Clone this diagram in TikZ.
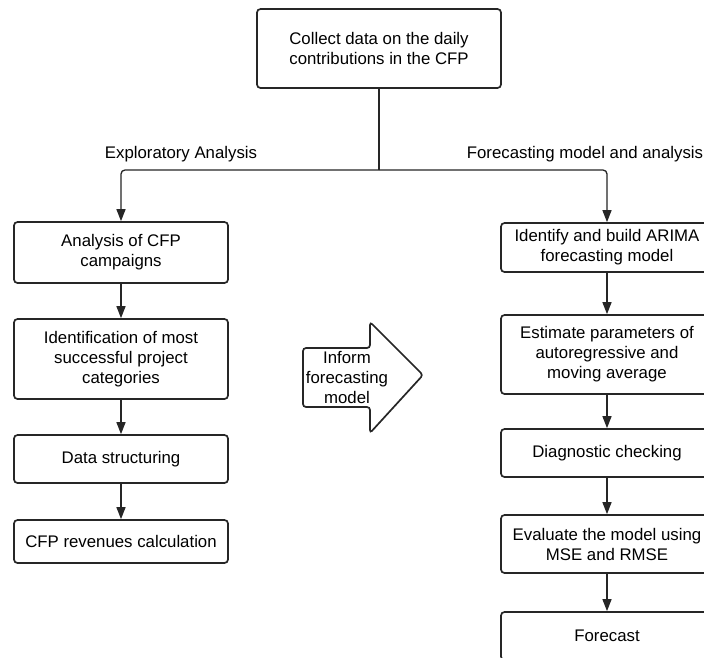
\documentclass[tikz,border=0pt]{standalone}
\usepackage{fontspec}
\setmainfont{Liberation Sans}
\usetikzlibrary{arrows.meta}
\definecolor{ink}{HTML}{262626}
\begin{document}
\begin{tikzpicture}[x=1pt,y=-1pt,
  box/.style={draw=ink, line width=1.7pt, rounded corners=3.5pt, align=center,
    inner sep=0pt, font=\fontsize{16.8}{20}\selectfont, text=black},
  lbl/.style={font=\fontsize{16.8}{20}\selectfont, text=black, inner sep=0pt},
  conn/.style={draw=ink, line width=1.3pt, -{Triangle[width=9pt,length=12pt]}},
  plain/.style={draw=ink, line width=1.3pt, rounded corners=4pt}]
\useasboundingbox (0,0) rectangle (704,657);
\fill[white] (0,0) rectangle (704,657);
\begin{scope}
\clip (0,0) rectangle (704,657);
% top
\node[box, minimum width=244pt, minimum height=79pt] (top) at (379,48.5) {Collect data on the daily\\contributions in the CFP};
% left column
\node[box, minimum width=214pt, minimum height=61pt] (l1) at (121,252.5) {Analysis of CFP\\campaigns};
\node[box, minimum width=214pt, minimum height=80pt] (l2) at (121,359) {Identification of most\\successful project\\categories};
\node[box, minimum width=214pt, minimum height=48pt] (l3) at (121,459) {Data structuring};
\node[box, minimum width=214pt, minimum height=43pt] (l4) at (121,541.5) {CFP revenues calculation};
% right column
\node[box, minimum width=212pt, minimum height=49pt] (r1) at (607,247.5) {Identify and build ARIMA\\forecasting model};
\node[box, minimum width=212pt, minimum height=79pt] (r2) at (607,354.5) {Estimate parameters of\\autoregressive and\\moving average};
\node[box, minimum width=212pt, minimum height=48pt] (r3) at (607,453) {Diagnostic checking};
\node[box, minimum width=212pt, minimum height=58pt] (r4) at (607,544) {Evaluate the model using\\MSE and RMSE};
\node[box, minimum width=212pt, minimum height=48pt] (r5) at (607,636) {Forecast};
% branch labels
\node[lbl] (exl) at (181,154) {Exploratory Analysis};
\node[lbl] (fcl) at (585,154) {Forecasting model and analysis};
% branch connectors
\coordinate (split) at (379,170);
\draw[plain] (top.south) -- (split);
\draw[conn, rounded corners=4pt] (split) -| (l1.north);
\draw[conn, rounded corners=4pt] (split) -| (r1.north);
% left chain
\draw[conn] (l1) -- (l2);
\draw[conn] (l2) -- (l3);
\draw[conn] (l3) -- (l4);
% right chain
\draw[conn] (r1) -- (r2);
\draw[conn] (r2) -- (r3);
\draw[conn] (r3) -- (r4);
\draw[conn] (r4) -- (r5);
% big arrow
\draw[draw=ink, line width=1.7pt, rounded corners=3pt, fill=white]
  (303,348) -- (370,348) -- (370,322) -- (423,375) -- (370,433) -- (370,407) -- (303,407) -- cycle;
\node[lbl, align=center] (inform) at (347,377) {Inform\\forecasting\\model};
\end{scope}
\end{tikzpicture}
\end{document}
